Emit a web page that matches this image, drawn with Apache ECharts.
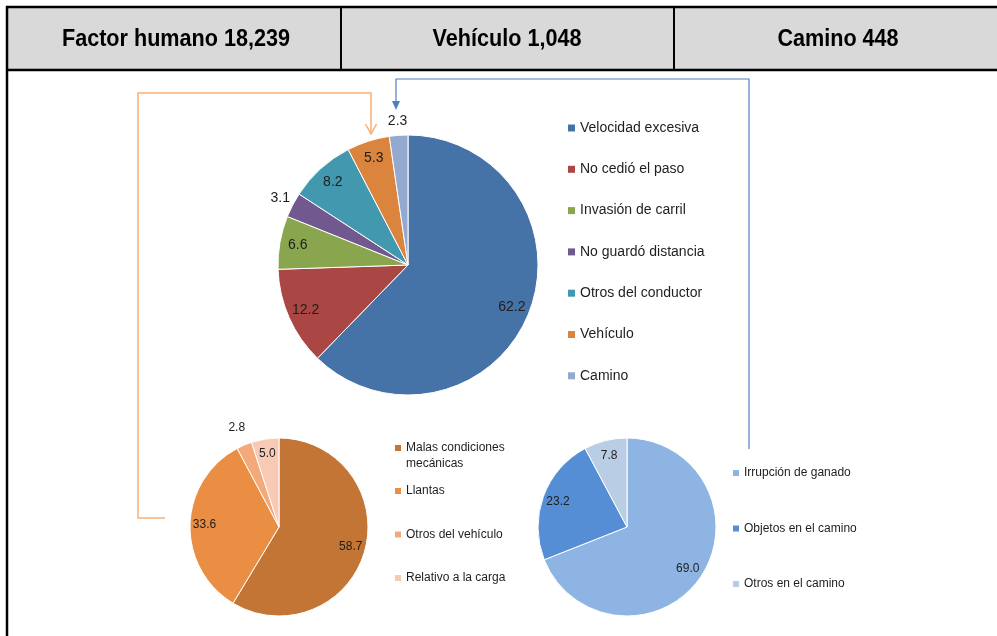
<!DOCTYPE html>
<html>
<head>
<meta charset="utf-8">
<title>Accidentes por causa</title>
<script src="https://cdn.jsdelivr.net/npm/echarts@6/dist/echarts.min.js"></script>
<style>
html, body { margin: 0; padding: 0; background: #fff; }
#chart { width: 997px; height: 636px; }
</style>
</head>
<body>
<div id="chart"></div>
<script>
// 1、数据
// cabecera
var headerTitles = ['Factor humano 18,239', 'Vehículo 1,048', 'Camino 448'];

// pastel grande: factor humano
var humanNames = ['Velocidad excesiva', 'No cedió el paso', 'Invasión de carril', 'No guardó distancia', 'Otros del conductor', 'Vehículo', 'Camino'];
var humanValues = [62.2, 12.2, 6.6, 3.1, 8.2, 5.3, 2.3];
var humanColors = ['#4572A7', '#AA4643', '#89A54E', '#71588F', '#4198AF', '#DB843D', '#93A9CF'];
var humanOutside = ['No guardó distancia', 'Camino'];

// pastel chico: vehículo
var vehicleNames = ['Malas condiciones\nmecánicas', 'Llantas', 'Otros del vehículo', 'Relativo a la carga'];
var vehicleValues = [58.7, 33.6, 2.8, 5.0];
var vehicleColors = ['#C27534', '#E98E43', '#F4A97A', '#F8C9B4'];
var vehicleOutside = ['Otros del vehículo'];

// pastel chico: camino
var roadNames = ['Irrupción de ganado', 'Objetos en el camino', 'Otros en el camino'];
var roadValues = [69.0, 23.2, 7.8];
var roadColors = ['#8EB4E3', '#558ED5', '#B9CDE5'];
var roadOutside = [];

var FONT = '"Liberation Sans", Arial, sans-serif';
var TXT = '#1e1e1e';

// 2、series: pastel + capas transparentes para las etiquetas
function pieSeries(names, values, colors, outside, center, r, rIn, rOut, fontSize) {
    var fmt = function (p) { return p.value.toFixed(1); };
    var main = {
        type: 'pie',
        center: center,
        radius: [0, r],
        startAngle: 90,
        clockwise: true,
        label: { show: false },
        labelLine: { show: false },
        emphasis: { disabled: true },
        itemStyle: { borderColor: '#fff', borderWidth: 1 },
        data: names.map(function (n, i) {
            return { name: n, value: values[i], itemStyle: { color: colors[i] } };
        })
    };
    function overlay(r0, r1, showOutside) {
        return {
            type: 'pie',
            center: center,
            radius: [r0, r1],
            startAngle: 90,
            clockwise: true,
            silent: true,
            legendHoverLink: false,
            emphasis: { disabled: true },
            itemStyle: { color: 'transparent', borderWidth: 0 },
            labelLine: { show: false },
            label: {
                position: 'inside',
                formatter: fmt,
                color: TXT,
                fontSize: fontSize,
                fontFamily: FONT,
                textBorderWidth: 0
            },
            data: names.map(function (n, i) {
                var isOut = outside.indexOf(n) >= 0;
                return { name: n, value: values[i], label: { show: showOutside ? isOut : !isOut } };
            })
        };
    }
    return [main, overlay(rIn, r, false), overlay(r, rOut, true)];
}

var series = []
    .concat(pieSeries(humanNames, humanValues, humanColors, humanOutside, [408, 265], 130, 88, 152, 14))
    .concat(pieSeries(vehicleNames, vehicleValues, vehicleColors, vehicleOutside, [279, 527], 89, 54, 121, 12))
    .concat(pieSeries(roadNames, roadValues, roadColors, roadOutside, [627, 527], 89, 52, 110, 12));

// 3、leyendas
function legendBox(data, left, top, gap, size, fontSize, lineHeight) {
    return {
        data: data,
        orient: 'vertical',
        left: left,
        top: top,
        padding: 0,
        itemGap: gap,
        itemWidth: size,
        itemHeight: size,
        icon: 'rect',
        selectedMode: false,
        itemStyle: { borderWidth: 0 },
        textStyle: { fontSize: fontSize, lineHeight: lineHeight, color: TXT, fontFamily: FONT }
    };
}

var legendTwoLines = legendBox([vehicleNames[0]], 395, 424, 0, 6, 12, 16);
// línea vacía arriba para que el cuadrito quede en la primera línea
legendTwoLines.formatter = function (name) { return '\n' + name; };

var legends = [
    legendBox(humanNames, 568, 121, 27.3, 7, 14, 14),
    legendTwoLines,
    legendBox(vehicleNames.slice(1), 395, 483, 27.5, 6, 12, 16),
    legendBox(roadNames, 733, 465, 39.5, 6, 12, 16)
];

// 4、cabecera y flechas (graphic)
var graphics = [
    { type: 'rect', shape: { x: 7, y: 7, width: 990, height: 63 }, style: { fill: '#D9D9D9' }, z: 0 },
    { type: 'line', shape: { x1: 6, y1: 7, x2: 997, y2: 7 }, style: { stroke: '#000', lineWidth: 2.5 } },
    { type: 'line', shape: { x1: 6, y1: 70, x2: 997, y2: 70 }, style: { stroke: '#000', lineWidth: 2.5 } },
    { type: 'line', shape: { x1: 7, y1: 6, x2: 7, y2: 636 }, style: { stroke: '#000', lineWidth: 2.5 } },
    { type: 'line', shape: { x1: 341, y1: 7, x2: 341, y2: 70 }, style: { stroke: '#000', lineWidth: 2 } },
    { type: 'line', shape: { x1: 674, y1: 7, x2: 674, y2: 70 }, style: { stroke: '#000', lineWidth: 2 } },
    // flecha naranja (vehículo)
    { type: 'polyline', shape: { points: [[165, 518], [138, 518], [138, 93], [371, 93], [371, 133]] }, style: { stroke: '#F8AE76', lineWidth: 1.5, fill: null } },
    { type: 'polyline', shape: { points: [[365.5, 124], [371, 134], [376.5, 124]] }, style: { stroke: '#F8AE76', lineWidth: 1.5, fill: null } },
    // flecha azul (camino)
    { type: 'polyline', shape: { points: [[749, 449], [749, 79], [396, 79], [396, 103]] }, style: { stroke: '#4F81BD', lineWidth: 1.2, fill: null } },
    { type: 'polygon', shape: { points: [[392, 101], [400, 101], [396, 110]] }, style: { fill: '#4F81BD' } }
];
var cellCenters = [176, 507, 838];
headerTitles.forEach(function (t, i) {
    // letra angosta: Liberation Sans bold comprimida en x
    graphics.push({
        type: 'text',
        x: cellCenters[i],
        y: 39,
        scaleX: 0.9,
        style: {
            text: t,
            x: 0,
            y: 0,
            align: 'center',
            verticalAlign: 'middle',
            fill: '#000',
            font: 'bold 24px "Liberation Sans", Arial, sans-serif'
        }
    });
});

var myChart = echarts.init(document.getElementById('chart'), null, { renderer: 'canvas' });
myChart.setOption({
    animation: false,
    backgroundColor: '#fff',
    legend: legends,
    graphic: graphics,
    series: series
});
</script>
</body>
</html>
